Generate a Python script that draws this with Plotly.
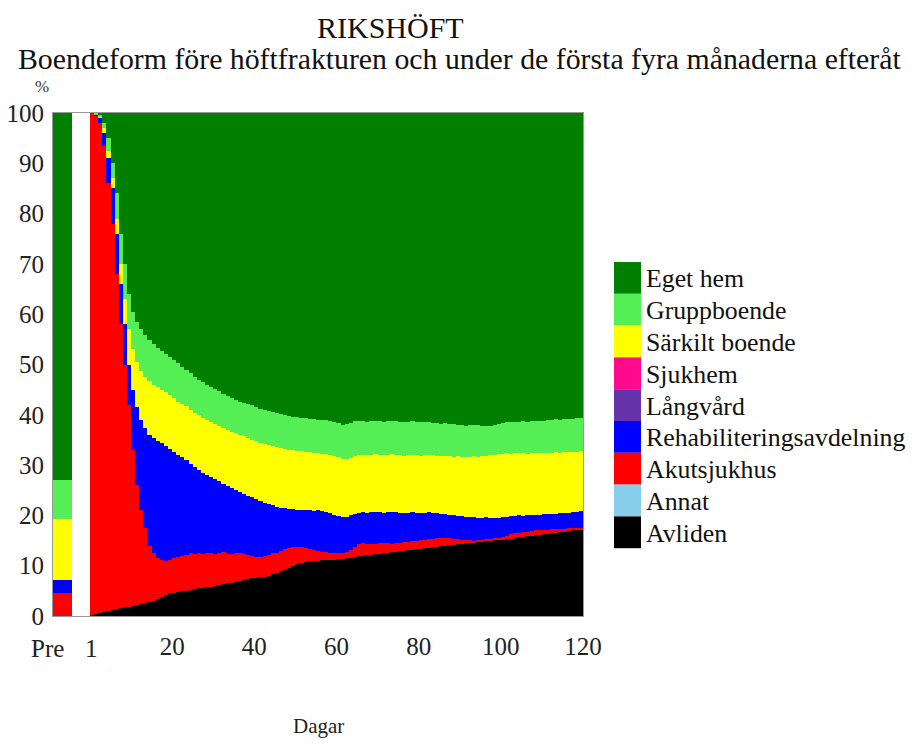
import plotly.graph_objects as go

# ---------------- data ----------------
days = list(range(1, 121))

categories = ["Avliden", "Annat", "Akutsjukhus", "Rehabiliteringsavdelning",
              "Långvård", "Sjukhem", "Särkilt boende", "Gruppboende", "Eget hem"]
colors = ["#000000", "#87CEEB", "#FF0000", "#0000FF",
          "#6633AA", "#FF0A8C", "#FFFF00", "#55EE55", "#007F00"]

# Pre-fracture distribution (%)
pre_values = [0.0, 0.0, 4.6, 2.6, 0.0, 0.0, 12.0, 7.8, 73.0]

# Upper edge (cumulative %) of each visible band, day 1..120
top_avliden = [
    0.2, 0.4, 0.6, 0.8, 1.0, 1.2, 1.4, 1.5, 1.7, 1.8,
    2.0, 2.1, 2.3, 2.5, 2.7, 3.0, 3.4, 3.8, 4.2, 4.5,
    4.6, 4.7, 4.9, 5.0, 5.2, 5.3, 5.5, 5.6, 5.7, 5.8,
    6.0, 6.1, 6.3, 6.5, 6.6, 6.8, 7.0, 7.2, 7.4, 7.5,
    7.6, 7.7, 7.8, 8.0, 8.3, 8.6, 9.0, 9.3, 9.6, 9.9,
    10.3, 10.6, 10.8, 10.9, 11.0, 11.0, 11.1, 11.1, 11.2, 11.2,
    11.3, 11.4, 11.5, 11.6, 11.8, 11.9, 12.0, 12.1, 12.2, 12.3,
    12.4, 12.5, 12.6, 12.7, 12.8, 12.9, 13.0, 13.1, 13.2, 13.3,
    13.4, 13.5, 13.6, 13.7, 13.8, 13.9, 14.0, 14.1, 14.2, 14.3,
    14.4, 14.5, 14.6, 14.7, 14.8, 14.9, 15.0, 15.0, 15.1, 15.1,
    15.2, 15.3, 15.4, 15.6, 15.7, 15.8, 15.9, 16.0, 16.1, 16.2,
    16.3, 16.4, 16.5, 16.6, 16.7, 16.8, 16.9, 17.0, 17.0, 17.1,
]
top_akutsjukhus = [
    100.0, 99.5, 98.0, 93.5, 86.0, 78.0, 68.0, 58.0, 50.0, 42.0,
    33.0, 26.0, 21.0, 17.5, 14.0, 12.5, 11.6, 11.2, 11.0, 11.2,
    11.5, 11.7, 11.9, 12.2, 12.5, 12.4, 12.6, 12.3, 12.5, 12.6,
    12.4, 12.5, 12.7, 12.4, 12.3, 12.5, 12.6, 12.4, 12.2, 12.0,
    11.8, 11.7, 11.9, 12.2, 12.5, 12.6, 13.0, 13.4, 13.6, 13.7,
    13.8, 13.7, 13.5, 13.3, 13.2, 13.0, 12.8, 12.7, 12.6, 12.5,
    12.5, 12.6, 12.7, 13.2, 13.8, 14.3, 14.5, 14.4, 14.3, 14.4,
    14.5, 14.6, 14.5, 14.4, 14.5, 14.6, 14.7, 14.8, 14.9, 15.0,
    15.1, 15.2, 15.3, 15.4, 15.5, 15.5, 15.6, 15.5, 15.4, 15.3,
    15.2, 15.1, 15.1, 15.0, 15.1, 15.2, 15.3, 15.4, 15.5, 15.6,
    15.8, 16.0, 16.3, 16.5, 16.6, 16.7, 16.8, 16.9, 17.0, 17.0,
    17.1, 17.1, 17.2, 17.2, 17.3, 17.3, 17.4, 17.4, 17.5, 17.5,
]
top_rehab = [
    100.0, 99.7, 99.0, 96.0, 91.0, 85.0, 76.0, 66.0, 58.0, 50.0,
    45.0, 41.5, 39.0, 37.3, 36.0, 35.3, 34.8, 34.3, 33.8, 33.3,
    32.7, 32.0, 31.6, 31.0, 30.3, 29.6, 29.0, 28.5, 28.1, 27.6,
    27.3, 26.8, 26.3, 25.8, 25.4, 25.0, 24.6, 24.2, 23.9, 23.6,
    23.2, 22.8, 22.5, 22.2, 22.0, 21.7, 21.5, 21.4, 21.3, 21.2,
    21.1, 21.0, 21.1, 21.0, 20.9, 21.0, 20.8, 20.6, 20.4, 20.1,
    19.8, 19.6, 19.7, 20.0, 20.3, 20.5, 20.6, 20.5, 20.6, 20.7,
    20.6, 20.5, 20.6, 20.7, 20.6, 20.5, 20.4, 20.5, 20.6, 20.5,
    20.4, 20.5, 20.6, 20.5, 20.4, 20.3, 20.2, 20.1, 20.0, 19.9,
    19.8, 19.7, 19.6, 19.6, 19.5, 19.5, 19.6, 19.5, 19.4, 19.5,
    19.6, 19.7, 19.8, 19.9, 20.0, 19.9, 20.0, 20.1, 20.0, 20.1,
    20.2, 20.3, 20.2, 20.3, 20.4, 20.5, 20.5, 20.6, 20.7, 20.8,
]
top_sarkilt = [
    100.0, 99.8, 99.4, 97.0, 92.5, 87.0, 79.0, 70.0, 63.0, 57.0,
    53.0, 50.5, 48.8, 47.6, 46.7, 46.0, 45.5, 45.0, 44.5, 44.0,
    43.3, 42.6, 42.2, 41.7, 41.0, 40.4, 40.0, 39.4, 39.0, 38.5,
    38.2, 37.8, 37.3, 37.0, 36.6, 36.3, 36.0, 35.7, 35.3, 35.0,
    34.7, 34.4, 34.2, 34.0, 33.8, 33.6, 33.4, 33.3, 33.1, 33.0,
    32.9, 32.8, 32.7, 32.6, 32.5, 32.4, 32.3, 32.2, 32.1, 31.9,
    31.6, 31.3, 31.2, 31.5, 31.8, 32.0, 32.1, 32.0, 32.1, 32.2,
    32.1, 32.0, 32.1, 32.2, 32.1, 32.0, 31.9, 32.0, 32.1, 32.0,
    31.9, 32.0, 32.1, 32.0, 31.9, 31.8, 31.9, 31.8, 31.7, 31.8,
    31.7, 31.6, 31.7, 31.8, 31.7, 31.8, 31.9, 32.0, 32.1, 32.2,
    32.3, 32.4, 32.3, 32.4, 32.5, 32.4, 32.3, 32.4, 32.5, 32.4,
    32.5, 32.4, 32.5, 32.6, 32.5, 32.6, 32.7, 32.6, 32.7, 32.8,
]
top_gruppboende = [
    100.0, 100.0, 99.7, 98.0, 95.0, 90.0, 84.0, 76.0, 70.0, 64.0,
    60.5, 58.5, 57.0, 55.8, 54.8, 54.0, 53.3, 52.6, 52.0, 51.4,
    50.8, 50.2, 49.6, 49.0, 48.3, 47.6, 47.0, 46.5, 46.0, 45.5,
    45.2, 44.8, 44.2, 43.7, 43.3, 43.0, 42.6, 42.3, 42.1, 42.0,
    41.5, 41.2, 41.0, 40.8, 40.5, 40.3, 40.2, 40.0, 39.8, 39.6,
    39.5, 39.4, 39.3, 39.2, 39.1, 39.0, 39.0, 38.9, 38.8, 38.6,
    38.3, 38.0, 38.1, 38.4, 38.7, 38.8, 38.7, 38.6, 38.7, 38.8,
    38.7, 38.6, 38.7, 38.8, 38.7, 38.6, 38.5, 38.6, 38.7, 38.6,
    38.5, 38.6, 38.5, 38.4, 38.3, 38.2, 38.3, 38.2, 38.1, 38.0,
    37.9, 37.8, 37.9, 38.0, 37.9, 37.8, 37.7, 37.8, 37.9, 38.1,
    38.3, 38.5, 38.6, 38.5, 38.6, 38.7, 38.6, 38.7, 38.8, 38.7,
    38.8, 38.9, 39.0, 39.1, 39.0, 39.1, 39.2, 39.2, 39.3, 39.3,
]
zero_series = [0.0] * len(days)   # Annat, Långvård, Sjukhem: not visible

x_tickvals = [20, 40, 60, 80, 100, 120]
y_tickvals = [0, 10, 20, 30, 40, 50, 60, 70, 80, 90, 100]

# ---------------- per-category shares ----------------
def diff(a, b):
    return [round(u - v, 2) for u, v in zip(a, b)]

series = {
    "Avliden": top_avliden,
    "Annat": zero_series,
    "Akutsjukhus": diff(top_akutsjukhus, top_avliden),
    "Rehabiliteringsavdelning": diff(top_rehab, top_akutsjukhus),
    "Långvård": zero_series,
    "Sjukhem": zero_series,
    "Särkilt boende": diff(top_sarkilt, top_rehab),
    "Gruppboende": diff(top_gruppboende, top_sarkilt),
    "Eget hem": [round(100 - v, 2) for v in top_gruppboende],
}

# ---------------- layout geometry ----------------
# The page body has an 8px margin, so the figure is drawn at (8, 8);
# keep the figure inside the window on all sides.
OFF = 8
W, H = 916 - 2 * OFF, 749 - 2 * OFF
# plot area in screen pixels
Ls, Rs, Ts, Bs = 53, 583, 113, 616
L, R, T, B = Ls - OFF, Rs - OFF, Ts - OFF, Bs - OFF
PRE_X, PRE_W = -6.7, 4.6
XMIN, XMAX = -9, 120

def px(xs):
    return (xs - Ls) / (Rs - Ls)

def py(ys):
    return (Bs - ys) / (Bs - Ts)

FONT = "Liberation Serif"

fig = go.Figure()
bar_x = [PRE_X] + [d - 0.5 for d in days]
bar_w = [PRE_W] + [1.0] * len(days)
for cat, col, pre in zip(categories, colors, pre_values):
    fig.add_trace(go.Bar(
        x=bar_x, y=[pre] + series[cat], width=bar_w,
        name=cat, marker=dict(color=col, line=dict(width=0)),
        showlegend=False, hoverinfo="skip",
    ))

annotations = []
shapes = []
# legend (top entry = top band)
row_h = 31.8
leg_top = 262
for i, (cat, col) in enumerate(zip(categories[::-1], colors[::-1])):
    y0 = leg_top + i * row_h
    shapes.append(dict(type="rect", xref="paper", yref="paper",
                       x0=px(614), x1=px(641), y0=py(y0 + row_h), y1=py(y0),
                       fillcolor=col, line=dict(width=0)))
    annotations.append(dict(text=cat, xref="paper", yref="paper",
                            x=px(644), y=py(y0 + row_h / 2 + 1),
                            xanchor="left", yanchor="middle", showarrow=False,
                            font=dict(family=FONT, size=25.8, color="#111")))

annotations += [
    dict(text="RIKSHÖFT", xref="paper", yref="paper", x=px(390), y=py(28),
         xanchor="center", yanchor="middle", showarrow=False,
         font=dict(family=FONT, size=30, color="#111")),
    dict(text="Boendeform före höftfrakturen och under de första fyra månaderna efteråt",
         xref="paper", yref="paper", x=px(459), y=py(59),
         xanchor="center", yanchor="middle", showarrow=False,
         font=dict(family=FONT, size=29.8, color="#111")),
    dict(text="%", xref="paper", yref="paper", x=px(42), y=py(86),
         xanchor="center", yanchor="middle", showarrow=False,
         font=dict(family=FONT, size=17, color="#333")),
    dict(text="Dagar", xref="paper", yref="paper", x=px(318), y=py(726),
         xanchor="center", yanchor="middle", showarrow=False,
         font=dict(family=FONT, size=21, color="#222")),
    dict(text="Pre", xref="paper", yref="paper", x=px(47), y=py(648),
         xanchor="center", yanchor="middle", showarrow=False,
         font=dict(family=FONT, size=25, color="#222")),
    dict(text="1", xref="paper", yref="paper", x=px(91), y=py(648),
         xanchor="center", yanchor="middle", showarrow=False,
         font=dict(family=FONT, size=25, color="#222")),
]

fig.update_layout(
    width=W, height=H,
    margin=dict(l=L, r=W - R, t=T, b=H - B, pad=0, autoexpand=False),
    paper_bgcolor="white", plot_bgcolor="white",
    barmode="stack", bargap=0,
    showlegend=False,
    font=dict(family=FONT, size=24, color="#222"),
    annotations=annotations, shapes=shapes,
    xaxis=dict(range=[XMIN, XMAX + 0.01], tickmode="array",
               tickvals=x_tickvals, ticktext=[str(v) for v in x_tickvals],
               showgrid=False, zeroline=False, showline=True, mirror=True,
               linecolor="#999", linewidth=1, ticks="", ticklabelstandoff=8,
               automargin=False,
               tickfont=dict(family=FONT, size=25, color="#222")),
    yaxis=dict(range=[0, 100], tickmode="array", tickvals=y_tickvals,
               showgrid=False, zeroline=False, showline=True, mirror=True,
               linecolor="#999", linewidth=1, ticks="", ticklabelstandoff=3,
               automargin=False,
               tickfont=dict(family=FONT, size=25, color="#222")),
)

fig.write_html("out.html")
